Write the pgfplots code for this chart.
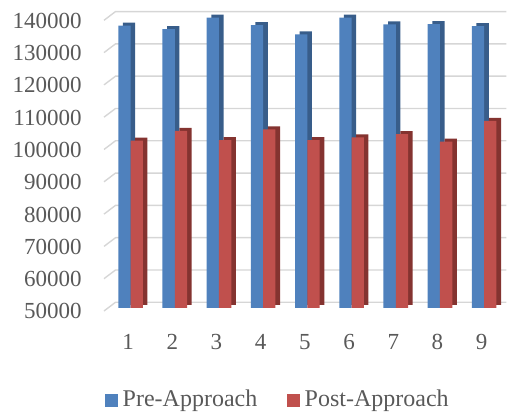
\documentclass[border=0pt]{standalone}
\usepackage{pgfplots}
\pgfplotsset{compat=1.18}
\usepackage{fontspec}
\setmainfont{Liberation Serif}

\definecolor{blueF}{HTML}{4F81BD}
\definecolor{blueS}{HTML}{385D8A}
\definecolor{redF}{HTML}{C0504D}
\definecolor{redS}{HTML}{843330}
\definecolor{gridc}{HTML}{D6D6D6}
\definecolor{textc}{HTML}{595959}

% front face values of the two series
\pgfplotstableread{
x pre post
1 137400 101800
2 136300 104800
3 139900 102000
4 137600 105300
5 134700 102000
6 139900 102800
7 137800 103800
8 137900 101500
9 137300 107900
}\datatable

\begin{document}
\fontsize{23}{27}\selectfont
\begin{tikzpicture}
\path[use as bounding box] (-108.5pt,-104pt) rectangle (398.5pt,308pt);
\begin{axis}[
  at={(0pt,0pt)}, anchor=south west,
  scale only axis, width=397.8pt, height=308pt,
  xmin=0.5, xmax=9.5, ymin=50000, ymax=145350,
  clip mode=individual,
  axis line style={draw=none},
  major tick length=0pt,
  xtick={1,2,3,4,5,6,7,8,9},
  xticklabels={1,2,3,4,5,6,7,8,9},
  ytick={50000,60000,70000,80000,90000,100000,110000,120000,130000,140000},
  yticklabels={50000,60000,70000,80000,90000,100000,110000,120000,130000,140000},
  tick label style={font=\fontsize{23}{27}\selectfont, text=textc},
  yticklabel style={xshift=-19pt, yshift=-3.4pt},
  xticklabel style={xshift=-2.5pt, yshift=-18.7pt},
  ybar=0pt, bar width=12.3pt,
  legend style={at={(-0.016,-0.2987)}, anchor=west, draw=none, fill=none,
    legend columns=2, font=\fontsize{24}{28}\selectfont, text=textc,
    /tikz/every even column/.append style={column sep=28pt}},
]
% back wall gridlines with the floor-side diagonal stubs
\pgfplotsinvokeforeach{50000,60000,70000,80000,90000,100000,110000,120000,130000,140000}{
  \draw[gridc, line width=1.4pt]
    ([xshift=-4.5pt,yshift=-3pt]axis cs:0.5,#1) --
    ([xshift=7pt,yshift=5.7pt]axis cs:0.5,#1) --
    ([yshift=5.7pt]axis cs:9.5,#1);
}
% side/top faces sit behind and offset from each front face
\addplot[fill=blueS, draw=none, bar shift=-1.55pt, yshift=3pt, forget plot] table[x=x, y=pre] {\datatable};
\addplot[fill=blueF, draw=none, bar shift=-6.15pt, forget plot] table[x=x, y=pre] {\datatable};
\addplot[fill=redS, draw=none, bar shift=10.75pt, yshift=3pt, forget plot] table[x=x, y=post] {\datatable};
\addplot[fill=redF, draw=none, bar shift=6.15pt, forget plot] table[x=x, y=post] {\datatable};

\addlegendimage{legend image code/.code={\fill[blueF] (0pt,-6pt) rectangle (12pt,6pt); \path (15pt,0pt);}}
\addlegendentry{Pre-Approach}
\addlegendimage{legend image code/.code={\fill[redF] (0pt,-6pt) rectangle (12pt,6pt); \path (15pt,0pt);}}
\addlegendentry{Post-Approach}
\end{axis}
\end{tikzpicture}
\end{document}
